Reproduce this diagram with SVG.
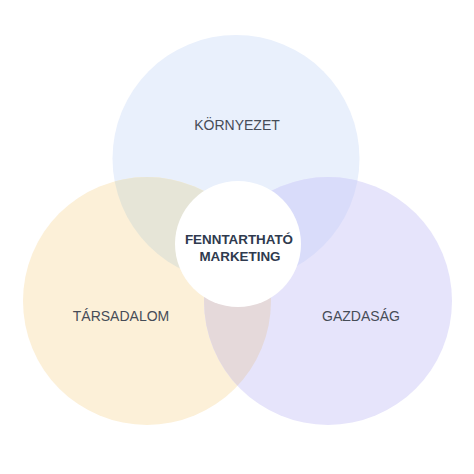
<svg xmlns="http://www.w3.org/2000/svg" width="474" height="474" viewBox="0 0 474 474">
<defs>
<style>
.lbl{font-family:"Liberation Sans",Arial,sans-serif;font-size:14px;fill:#464c57;text-anchor:middle}
.ctr{font-family:"Liberation Sans",Arial,sans-serif;font-size:13.4px;font-weight:bold;fill:#2f3a4e;text-anchor:middle}
</style>
<clipPath id="cTop"><circle cx="236" cy="158.5" r="123.5"/></clipPath>
<clipPath id="cLeft"><circle cx="147" cy="301" r="124"/></clipPath>
</defs>
<rect width="474" height="474" fill="#ffffff"/>
<g id="environment">
<circle cx="236" cy="158.5" r="123.5" fill="#e9f0fc"/>
</g>
<g id="society">
<circle cx="147" cy="301" r="124" fill="#fcf0d8"/>
</g>
<g id="economy">
<circle cx="328" cy="301" r="124" fill="#e6e4fb"/>
</g>
<g id="overlaps">
<circle cx="147" cy="301" r="124" fill="#e6e5d7" clip-path="url(#cTop)"/>
<circle cx="328" cy="301" r="124" fill="#d9dcfa" clip-path="url(#cTop)"/>
<circle cx="328" cy="301" r="124" fill="#e5d9da" clip-path="url(#cLeft)"/>
<g clip-path="url(#cTop)"><circle cx="328" cy="301" r="124" fill="#dcd8d8" clip-path="url(#cLeft)"/></g>
</g>
<g id="center">
<circle cx="238" cy="244" r="63" fill="#ffffff"/>
<text class="ctr" x="239" y="244">FENNTARTHATÓ</text>
<text class="ctr" x="240" y="261">MARKETING</text>
</g>
<g id="labels">
<text class="lbl" x="237" y="130">KÖRNYEZET</text>
<text class="lbl" x="121" y="320.5">TÁRSADALOM</text>
<text class="lbl" x="361" y="320.5">GAZDASÁG</text>
</g>
<g id="connectors"/>
</svg>
